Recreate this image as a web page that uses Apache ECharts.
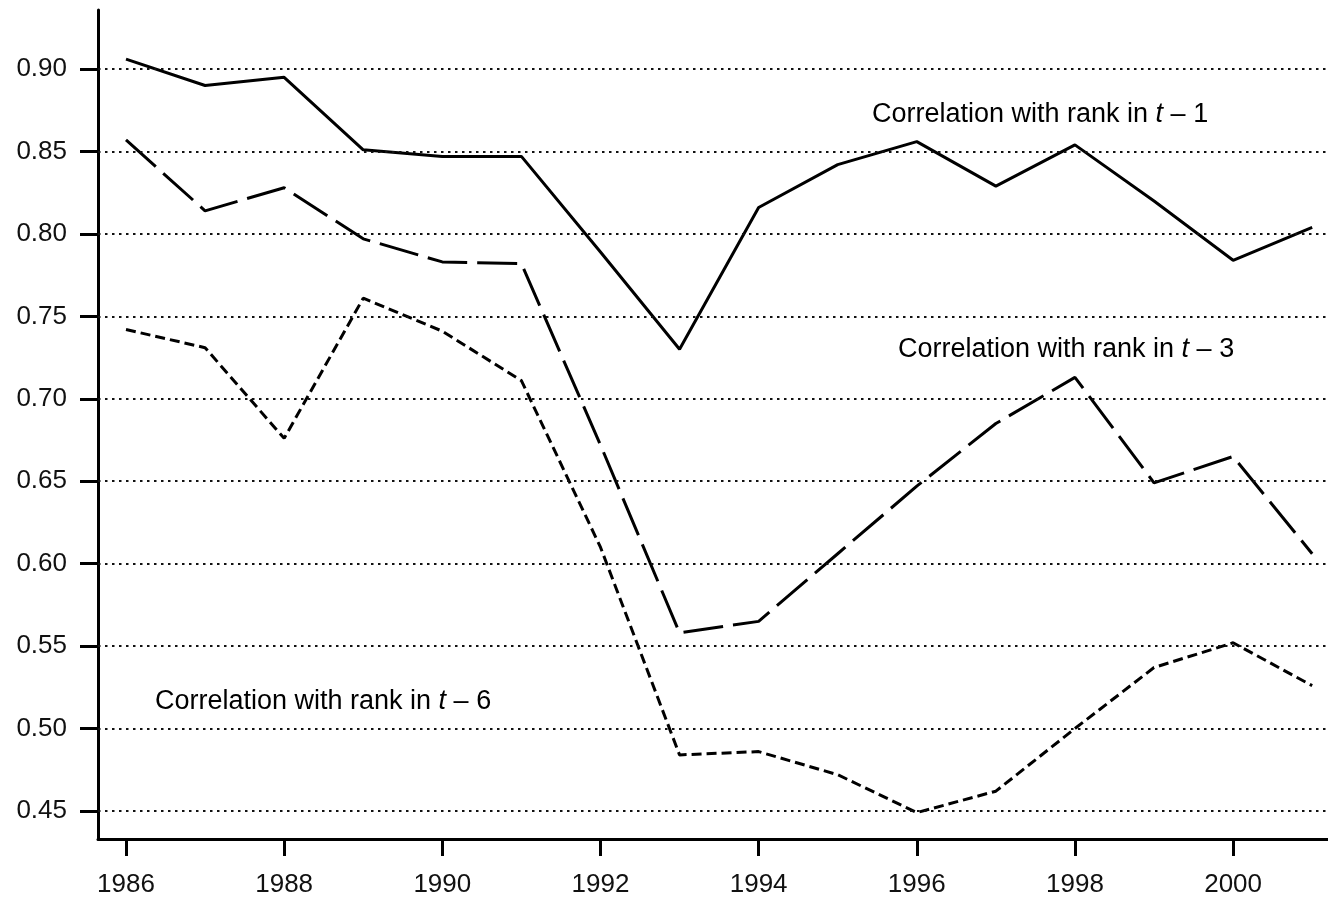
<!DOCTYPE html>
<html>
<head>
<meta charset="utf-8">
<script src="https://cdn.jsdelivr.net/npm/echarts@6/dist/echarts.min.js"></script>
<style>html,body{margin:0;padding:0;background:#fff}#c{width:1328px;height:899px}</style>
</head>
<body>
<div id="c"></div>
<script>
var years = [1986,1987,1988,1989,1990,1991,1992,1993,1994,1995,1996,1997,1998,1999,2000,2001];
var rankT1 = [0.906,0.890,0.895,0.851,0.847,0.847,0.789,0.730,0.816,0.842,0.856,0.829,0.854,0.820,0.784,0.804];
var rankT3 = [0.857,0.814,0.828,0.797,0.783,0.782,0.672,0.558,0.565,0.606,0.647,0.685,0.713,0.649,0.665,0.606];
var rankT6 = [0.742,0.731,0.676,0.761,0.741,0.711,0.610,0.484,0.486,0.472,0.449,0.462,0.500,0.537,0.552,0.526];
var yTicks = [0.45,0.50,0.55,0.60,0.65,0.70,0.75,0.80,0.85,0.90];
var xTicks = [1986,1988,1990,1992,1994,1996,1998,2000];
var labelT1 = 'Correlation with rank in ';
var labelLag = ['1','3','6'];

function pairs(v){ return years.map(function(y,i){ return [y, v[i]]; }); }

var chart = echarts.init(document.getElementById('c'), null, {renderer:'canvas'});
var font = 'Liberation Sans, Arial, Helvetica, sans-serif';
var rich = {
  n:{fontFamily:font,fontSize:27,color:'#111'},
  i:{fontFamily:font,fontSize:27,fontStyle:'italic',color:'#111'}
};
function label(lag){ return '{n|' + labelT1 + '}{i|t}{n| – ' + lag + '}'; }

chart.setOption({
  animation:false,
  backgroundColor:'#fff',
  grid:{left:98,right:0,top:10,bottom:60,containLabel:false},
  xAxis:{
    type:'value', min:1985.646, max:2001.2,
    axisLine:{show:true,lineStyle:{color:'#000',width:3}},
    axisTick:{show:true,length:17,inside:false,customValues:xTicks,lineStyle:{color:'#000',width:3}},
    axisLabel:{show:true,customValues:xTicks,margin:33,fontSize:26,fontFamily:font,color:'#111',formatter:function(v){return String(v);}},
    splitLine:{show:false}
  },
  yAxis:{
    type:'value', min:0.4330, max:0.9358,
    axisLine:{show:true,lineStyle:{color:'#000',width:3}},
    axisTick:{show:true,length:18,customValues:yTicks,lineStyle:{color:'#000',width:3}},
    axisLabel:{show:true,customValues:yTicks,margin:31,fontSize:26,fontFamily:font,color:'#111',formatter:function(v){return v.toFixed(2);}},
    splitLine:{show:false}
  },
  series:[
    {type:'line',data:pairs(rankT1),symbol:'none',lineStyle:{color:'#000',width:3,type:'solid'},z:3,
     markLine:{silent:true,symbol:'none',label:{show:false},animation:false,
       lineStyle:{color:'#111',width:2,type:[2.5,4.5]},
       data:yTicks.map(function(v){return {yAxis:v};})}},
    {type:'line',data:pairs(rankT3),symbol:'none',lineStyle:{color:'#000',width:3,type:[40,10]},z:3},
    {type:'line',data:pairs(rankT6),symbol:'none',lineStyle:{color:'#000',width:3,type:[10,5]},z:3}
  ],
  graphic:[
    {type:'text',left:872,top:101,style:{text:label(labelLag[0]),rich:rich}},
    {type:'text',left:898,top:336,style:{text:label(labelLag[1]),rich:rich}},
    {type:'text',left:155,top:688,style:{text:label(labelLag[2]),rich:rich}}
  ]
});
</script>
</body>
</html>
